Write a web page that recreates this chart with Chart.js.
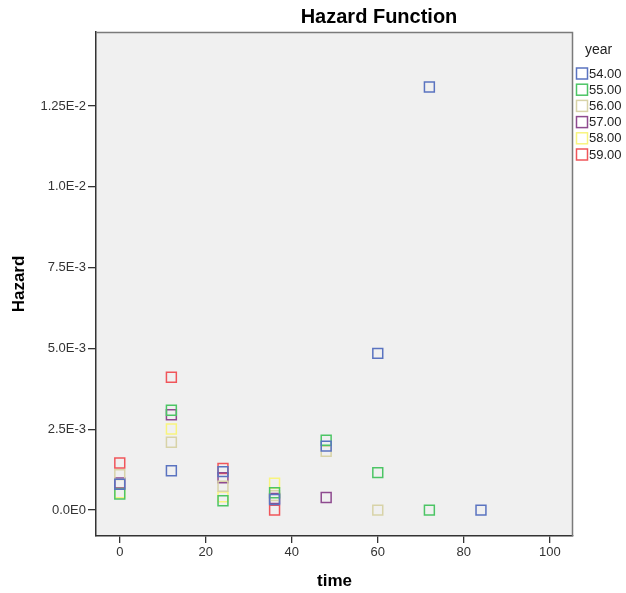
<!DOCTYPE html>
<html>
<head>
<meta charset="utf-8">
<script src="https://cdn.jsdelivr.net/npm/chart.js@4/dist/chart.umd.min.js"></script>
<style>
  html, body { margin: 0; padding: 0; background: #ffffff; }
  #wrap { position: relative; width: 626px; height: 593px; }
</style>
</head>
<body>
<div id="wrap"><canvas id="c" width="626" height="593"></canvas></div>
<script>
// ---- data ----
const years = ['54.00', '55.00', '56.00', '57.00', '58.00', '59.00'];
const times54 = [0, 12, 24, 36, 48, 60, 72, 84];
const hazard54 = [0.00080, 0.00122, 0.00119, 0.00033, 0.00198, 0.00485, 0.01309, 0.0];
const times55 = [0, 12, 24, 36, 48, 60, 72];
const hazard55 = [0.00050, 0.00309, 0.00029, 0.00054, 0.00216, 0.00116, 0.0];
const times56 = [0, 12, 24, 36, 48, 60];
const hazard56 = [0.00110, 0.00210, 0.00074, 0.00045, 0.00182, 0.0];
const times57 = [0, 12, 24, 36, 48];
const hazard57 = [0.00084, 0.00295, 0.00100, 0.00036, 0.00039];
const times58 = [0, 12, 24, 36];
const hazard58 = [0.00054, 0.00251, 0.00041, 0.00083];
const times59 = [0, 12, 24, 36];
const hazard59 = [0.00146, 0.00411, 0.00129, 0.0];
const xTickValues = [0, 20, 40, 60, 80, 100];
const yTickValues = [0, 0.0025, 0.005, 0.0075, 0.01, 0.0125];
const yTickLabels = ['0.0E0', '2.5E-3', '5.0E-3', '7.5E-3', '1.0E-2', '1.25E-2'];
const colors = ['#5A73C0', '#4CC565', '#D8D3A8', '#8E4A8F', '#F8F47E', '#F0555A'];

const seriesTimes = [times54, times55, times56, times57, times58, times59];
const seriesHaz = [hazard54, hazard55, hazard56, hazard57, hazard58, hazard59];

const datasets = years.map((y, i) => ({
  label: y,
  data: seriesTimes[i].map((t, j) => ({ x: t, y: seriesHaz[i][j] })),
  pointStyle: 'rect',
  pointRadius: 7,
  pointHoverRadius: 7,
  borderWidth: 1.5,
  borderColor: colors[i],
  backgroundColor: 'rgba(0,0,0,0)',
  showLine: false
}));

const FONT = '"Liberation Sans", Arial, sans-serif';

const decor = {
  id: 'decor',
  beforeDraw(chart) {
    const { ctx, chartArea: a } = chart;
    ctx.save();
    ctx.fillStyle = '#F0F0F0';
    ctx.fillRect(a.left, a.top, a.right - a.left, a.bottom - a.top);
    ctx.restore();
  },
  afterDraw(chart) {
    const { ctx, chartArea: a } = chart;
    ctx.save();
    // top / right frame
    ctx.strokeStyle = '#7a7a7a';
    ctx.lineWidth = 1.5;
    ctx.beginPath();
    ctx.moveTo(a.left, a.top + 0.5);
    ctx.lineTo(a.right - 0.5, a.top + 0.5);
    ctx.lineTo(a.right - 0.5, a.bottom);
    ctx.stroke();

    // title
    ctx.fillStyle = '#000';
    ctx.font = 'bold 20px ' + FONT;
    ctx.textAlign = 'center';
    ctx.textBaseline = 'middle';
    ctx.fillText('Hazard Function', 379, 17);

    // axis titles
    ctx.font = 'bold 17px ' + FONT;
    ctx.fillText('time', (a.left + a.right) / 2, 581);
    ctx.save();
    ctx.translate(19, (a.top + a.bottom) / 2);
    ctx.rotate(-Math.PI / 2);
    ctx.fillText('Hazard', 0, 0);
    ctx.restore();

    // legend
    ctx.font = '14px ' + FONT;
    ctx.textAlign = 'left';
    ctx.fillStyle = '#222';
    ctx.fillText('year', 585, 50);
    ctx.font = '13px ' + FONT;
    chart.data.datasets.forEach((ds, i) => {
      const cy = 73.5 + i * 16.2;
      ctx.strokeStyle = ds.borderColor;
      ctx.lineWidth = 1.5;
      ctx.strokeRect(576.5, cy - 5.5, 11, 11);
      ctx.fillStyle = '#222';
      ctx.fillText(ds.label, 589, cy + 0.5);
    });
    ctx.restore();
  }
};

new Chart(document.getElementById('c'), {
  type: 'scatter',
  data: { datasets },
  options: {
    responsive: false,
    animation: false,
    events: [],
    layout: { padding: { top: 32, right: 53, bottom: 0, left: 0 } },
    plugins: {
      legend: { display: false },
      tooltip: { enabled: false },
      title: { display: false }
    },
    scales: {
      x: {
        type: 'linear',
        min: -5.53,
        max: 105.4,
        afterBuildTicks: s => { s.ticks = xTickValues.map(v => ({ value: v })); },
        afterFit: s => { s.height = 57; },
        grid: { display: true, drawOnChartArea: false, drawTicks: true, tickLength: 7, color: '#333', lineWidth: 1.3 },
        border: { display: true, color: '#333', width: 1.5 },
        ticks: { color: '#333', font: { family: FONT, size: 13 }, padding: 2, maxRotation: 0 }
      },
      y: {
        type: 'linear',
        min: -0.0008,
        max: 0.01479,
        afterBuildTicks: s => { s.ticks = yTickValues.map(v => ({ value: v })); },
        afterFit: s => { s.width = 96; },
        grid: { display: true, drawOnChartArea: false, drawTicks: true, tickLength: 8, color: '#333', lineWidth: 1.3 },
        border: { display: true, color: '#333', width: 1.5 },
        ticks: {
          color: '#333',
          font: { family: FONT, size: 13 },
          padding: 2,
          callback: (v) => {
            const k = yTickValues.findIndex(t => Math.abs(t - v) < 1e-9);
            return k >= 0 ? yTickLabels[k] : '';
          }
        }
      }
    }
  },
  plugins: [decor]
});
</script>
</body>
</html>
